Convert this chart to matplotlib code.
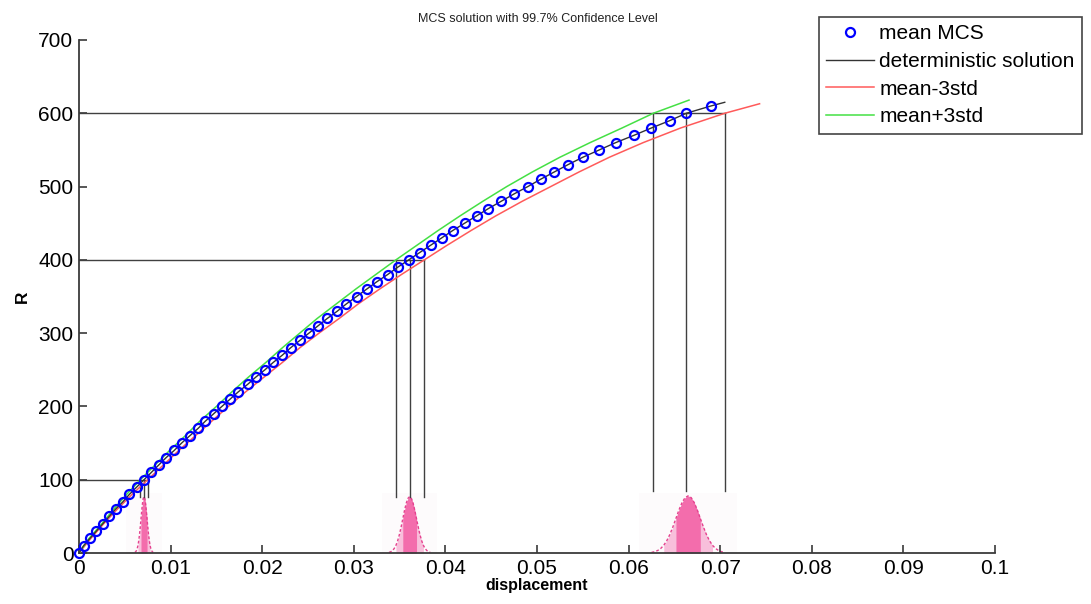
import matplotlib.pyplot as plt
from matplotlib.lines import Line2D
from matplotlib.patches import Rectangle

plt.rcParams['font.family'] = ['Liberation Sans', 'DejaVu Sans']

# mean MCS points (R every 10)
mean_r = [0, 10, 20, 30, 40, 50, 60, 70, 80, 90,
          100, 110, 120, 130, 140, 150, 160, 170, 180, 190,
          200, 210, 220, 230, 240, 250, 260, 270, 280, 290,
          300, 310, 320, 330, 340, 350, 360, 370, 380, 390,
          400, 410, 420, 430, 440, 450, 460, 470, 480, 490,
          500, 510, 520, 530, 540, 550, 560, 570, 580, 590,
          600, 610]
mean_x = [0.0000, 0.0005, 0.0012, 0.0019, 0.0026, 0.0033, 0.0040, 0.0048, 0.0055, 0.0063,
          0.0071, 0.0079, 0.0087, 0.0095, 0.0104, 0.0112, 0.0121, 0.0130, 0.0138, 0.0147,
          0.0156, 0.0165, 0.0174, 0.0184, 0.0193, 0.0203, 0.0212, 0.0222, 0.0231, 0.0241,
          0.0251, 0.0261, 0.0271, 0.0282, 0.0292, 0.0303, 0.0314, 0.0325, 0.0337, 0.0348,
          0.0360, 0.0372, 0.0384, 0.0396, 0.0408, 0.0421, 0.0434, 0.0447, 0.0461, 0.0475,
          0.0490, 0.0504, 0.0519, 0.0534, 0.0550, 0.0568, 0.0586, 0.0606, 0.0625, 0.0645,
          0.0663, 0.0690]

# deterministic solution
det_x = mean_x + [0.0705]
det_r = mean_r + [615]

# mean+3std (green) and mean-3std (red)
band_r = [0, 20, 40, 60, 80, 100, 120, 140, 160, 180, 200, 220, 240, 260, 280,
          300, 320, 340, 360, 380, 400, 420, 440, 460, 480, 500, 520, 540, 560,
          580, 600]
plus_x = [0.0000, 0.0011, 0.0025, 0.0038, 0.0052, 0.0067, 0.0083, 0.0099, 0.0116,
          0.0132, 0.0150, 0.0167, 0.0185, 0.0204, 0.0222, 0.0241, 0.0260, 0.0281,
          0.0302, 0.0324, 0.0346, 0.0369, 0.0392, 0.0416, 0.0441, 0.0467, 0.0495,
          0.0525, 0.0558, 0.0593, 0.0627]
minus_x = [0.0000, 0.0013, 0.0027, 0.0042, 0.0058, 0.0075, 0.0092, 0.0109, 0.0127,
           0.0145, 0.0163, 0.0182, 0.0202, 0.0222, 0.0241, 0.0262, 0.0284, 0.0305,
           0.0328, 0.0352, 0.0377, 0.0402, 0.0428, 0.0455, 0.0484, 0.0515, 0.0546,
           0.0579, 0.0616, 0.0657, 0.0705]
plus_end = (0.0666, 618)
minus_end = (0.0743, 613)

# confidence levels marked on the chart
levels = [100, 400, 600]
level_lo = [0.0067, 0.0346, 0.0627]
level_mid = [0.0071, 0.0361, 0.0663]
level_hi = [0.0075, 0.0377, 0.0705]
level_drop = [77, 77, 85]

# distributions at the bottom
dist_mu = [0.0071, 0.0361, 0.0665]
dist_sd = [0.00033, 0.00075, 0.00133]
dist_peak = [77, 77, 78]
bell_z = [0, 0.25, 0.5, 0.75, 1.0, 1.25, 1.5, 1.75, 2.0, 2.25, 2.5, 2.75, 3.0]
bell_h = [1.0, 0.969, 0.8825, 0.7548, 0.6065, 0.4578, 0.3247, 0.2163, 0.1353,
          0.0796, 0.0439, 0.0228, 0.0111]

xtick_vals = [0, 0.01, 0.02, 0.03, 0.04, 0.05, 0.06, 0.07, 0.08, 0.09, 0.1]
xtick_labels = ['0', '0.01', '0.02', '0.03', '0.04', '0.05', '0.06', '0.07', '0.08', '0.09', '0.1']
ytick_vals = [0, 100, 200, 300, 400, 500, 600, 700]

fig = plt.figure(figsize=(10.91, 6.04), dpi=100)
ax = fig.add_axes([0.0724, 0.0844, 0.8396, 0.8494])

axis_col = '#3a3a3a'

# faint boxes behind the distributions
for mu, sd in zip(dist_mu, dist_sd):
    w = max(8 * sd, 0.004)
    ax.add_patch(Rectangle((mu - w / 2, 0), w, 82, facecolor='#fdfbfc',
                           edgecolor='none', zorder=0))

# full bell shape (mirror of half profile)
full_z = [-z for z in bell_z[::-1]] + bell_z[1:]
full_h = bell_h[::-1] + bell_h[1:]
for mu, sd, pk in zip(dist_mu, dist_sd, dist_peak):
    xs = [mu + z * sd for z in full_z]
    ys = [h * pk for h in full_h]
    in2 = [abs(z) <= 2 for z in full_z]
    in1 = [abs(z) <= 1 for z in full_z]
    ax.fill_between(xs, 0, ys, where=in2, color='#f8bfdb', lw=0, zorder=1)
    ax.fill_between(xs, 0, ys, where=in1, color='#f36dac', lw=0, zorder=1.1)
    ax.plot(xs, ys, color='#e5428f', lw=1, ls=(0, (2, 1.5)), zorder=1.2)

# reference lines
for lv, lo, mid, hi, dr in zip(levels, level_lo, level_mid, level_hi, level_drop):
    ax.plot([0, hi], [lv, lv], color='#404040', lw=1, zorder=2)
    for xv in (lo, mid, hi):
        ax.plot([xv, xv], [dr, lv], color='#404040', lw=1, zorder=2)

ax.plot(minus_x + [minus_end[0]], band_r + [minus_end[1]],
        color='#ff5a5a', lw=1.1, zorder=3)
ax.plot(plus_x + [plus_end[0]], band_r + [plus_end[1]],
        color='#44e044', lw=1.1, zorder=3)
ax.plot(det_x, det_r, color='#333333', lw=1, zorder=4)
ax.plot(mean_x, mean_r, ls='none', marker='o', ms=6.5, mfc='none', mec='#0000ff',
        mew=1.6, zorder=5, clip_on=False)

ax.set_xlim(0, 0.1)
ax.set_ylim(0, 700)
ax.set_xticks(xtick_vals)
ax.set_xticklabels(xtick_labels)
ax.set_yticks(ytick_vals)
ax.tick_params(direction='in', length=6, width=1.2, color=axis_col, labelsize=15,
               pad=4)
for s in ('top', 'right'):
    ax.spines[s].set_visible(False)
for s in ('left', 'bottom'):
    ax.spines[s].set_color(axis_col)
    ax.spines[s].set_linewidth(1.3)

ax.set_xlabel('displacement', fontsize=11.5, fontweight='bold', labelpad=0)
ax.set_ylabel('R', fontsize=12.5, fontweight='bold', labelpad=6)
fig.text(0.493, 0.968, 'MCS solution with 99.7% Confidence Level', fontsize=9,
         ha='center', va='center', color='#222222')

handles = [
    Line2D([], [], ls='none', marker='o', ms=6.5, mfc='none', mec='#0000ff', mew=1.6),
    Line2D([], [], color='#333333', lw=1),
    Line2D([], [], color='#ff5a5a', lw=1.1),
    Line2D([], [], color='#44e044', lw=1.1),
]
labels = ['mean MCS', 'deterministic solution', 'mean-3std', 'mean+3std']
leg = fig.legend(handles, labels, loc='upper left', bbox_to_anchor=(0.7507, 0.972),
                 fontsize=15, frameon=True, fancybox=False, framealpha=1,
                 handlelength=2.3, handletextpad=0.25, borderpad=0.35,
                 labelspacing=0.42, borderaxespad=0)
leg.get_frame().set_edgecolor('#444444')
leg.get_frame().set_linewidth(1.2)

fig.savefig('out.png', dpi=100)
